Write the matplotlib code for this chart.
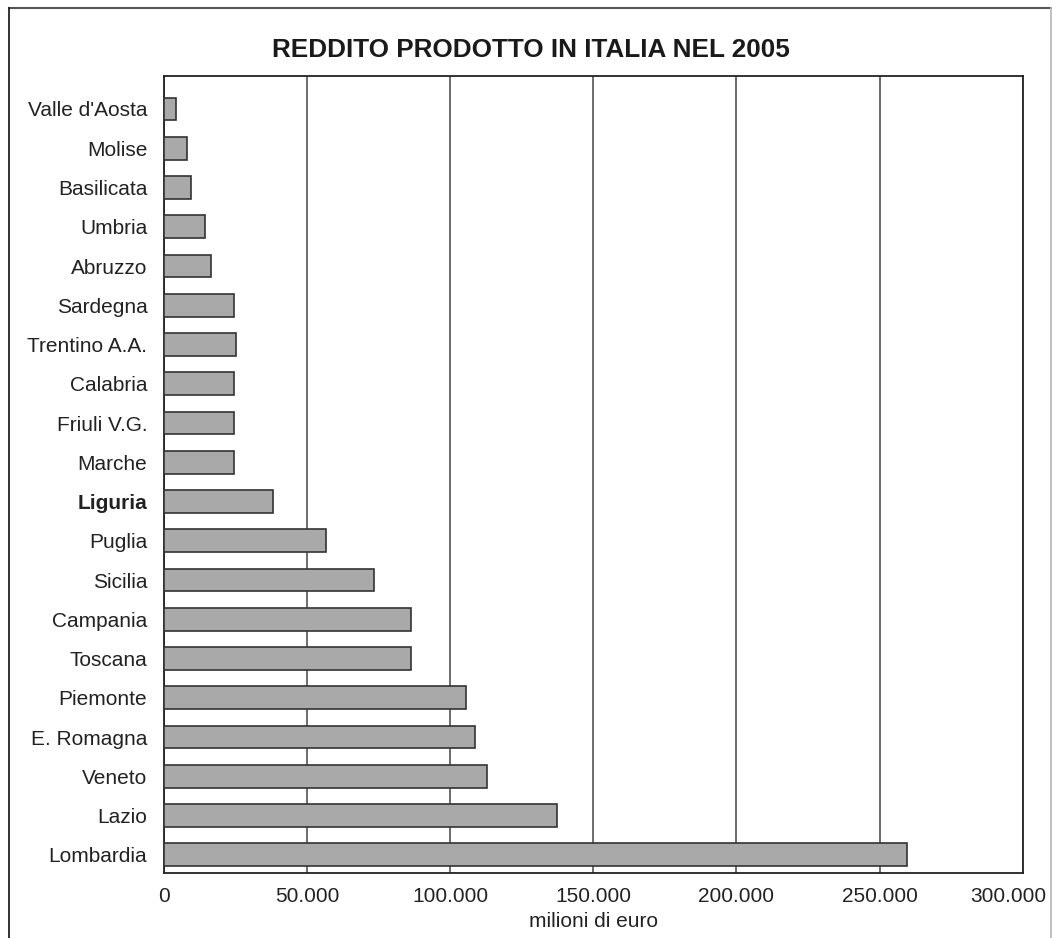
import matplotlib
matplotlib.use("Agg")
import matplotlib.pyplot as plt
import matplotlib.transforms as mtransforms
from matplotlib.lines import Line2D
from matplotlib.ticker import FuncFormatter

regions = ["Valle d'Aosta", "Molise", "Basilicata", "Umbria", "Abruzzo", "Sardegna",
           "Trentino A.A.", "Calabria", "Friuli V.G.", "Marche", "Liguria", "Puglia",
           "Sicilia", "Campania", "Toscana", "Piemonte", "E. Romagna", "Veneto",
           "Lazio", "Lombardia"]
values = [4300, 7900, 9400, 14400, 16500, 24500, 25200, 24500, 24400, 24400,
          38000, 56700, 73300, 86400, 86400, 105600, 108500, 112900, 137300, 259500]
highlight = "Liguria"
title = "REDDITO PRODOTTO IN ITALIA NEL 2005"
xlabel = "milioni di euro"
xticks = [0, 50000, 100000, 150000, 200000, 250000, 300000]

plt.rcParams['font.family'] = ['Liberation Sans', 'DejaVu Sans']

fig = plt.figure(figsize=(10.52, 9.38), dpi=100)
ax = fig.add_axes([164/1052, 1-873.3/938, (1022.7-164)/1052, (873.3-76)/938])

n = len(regions)
ypos = [n - 1 - i for i in range(n)]
ax.barh(ypos, values, height=0.58, color="#a9a9a9", edgecolor="#333333", linewidth=1.2, zorder=3)

ax.set_xlim(0, 300000)
ax.set_ylim(-0.47, 19.84)
ax.set_xticks(xticks)
ax.xaxis.set_major_formatter(FuncFormatter(lambda v, p: f"{int(v):,}".replace(",", ".")))
ax.set_yticks(ypos)
ax.set_yticklabels(regions)
for lbl in ax.get_yticklabels():
    if lbl.get_text() == highlight:
        lbl.set_fontweight("bold")
ax.tick_params(axis="both", length=0, labelsize=15, colors="#222222")
ax.tick_params(axis="y", pad=12)
ax.tick_params(axis="x", pad=10)
ax.grid(axis="x", color="#444444", linewidth=1.1, zorder=0)
for s in ax.spines.values():
    s.set_color("#222222")
    s.set_linewidth(1.3)

# nudge the last x tick label left so it fits inside the frame, as in the original
last = ax.xaxis.get_major_ticks()[-1].label1
last.set_transform(last.get_transform() + mtransforms.ScaledTranslation(-14/100, 0, fig.dpi_scale_trans))

ax.set_xlabel(xlabel, fontsize=15, color="#222222", labelpad=4)
fig.text(531/1052, 1-50/938, title, ha="center", va="center", fontsize=18.8,
         fontweight="bold", color="#1a1a1a")

# outer frame lines
fig.add_artist(Line2D([9/1052, 1051/1052], [1-8/938, 1-8/938], transform=fig.transFigure,
                      color="#555555", linewidth=1.5, zorder=-1))
fig.add_artist(Line2D([9/1052, 9/1052], [0, 1-8/938], transform=fig.transFigure,
                      color="#222222", linewidth=1.3, zorder=-1))
fig.add_artist(Line2D([1051/1052, 1051/1052], [0, 1-8/938], transform=fig.transFigure,
                      color="#bbbbbb", linewidth=1.3, zorder=-1))

fig.savefig("out.png", dpi=100)
